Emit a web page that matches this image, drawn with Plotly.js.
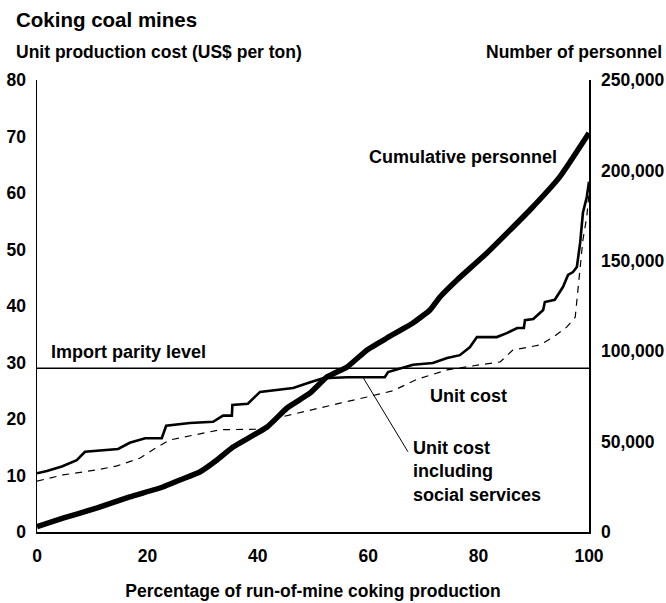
<!DOCTYPE html>
<html>
<head>
<meta charset="utf-8">
<script src="https://cdn.plot.ly/plotly-3.0.1.min.js"></script>
<style>html,body{margin:0;padding:0;background:#fff;}#chart{width:666px;height:603px;}</style>
</head>
<body>
<div id="chart"></div>
<script>
// Unit cost including social services (US$ per ton) vs. % of run-of-mine coking production
const socialShare = [0, 1.8, 4.5, 7.2, 8.7, 14.7, 16.8, 19.6, 22.6, 23.4, 27.7, 31.9, 33.7, 35.3, 35.4, 38.2, 40.4, 46.4, 49.5, 51.8, 56.2, 63.0, 63.6, 65.8, 68.1, 71.7, 74.3, 76.6, 78.4, 79.7, 83.3, 85.1, 87.0, 88.2, 88.4, 89.9, 91.7, 92.0, 93.8, 95.3, 96.2, 97.1, 97.8, 98.4, 98.9, 99.6, 99.8, 100];
const socialCost  = [10.4, 10.8, 11.6, 12.7, 14.2, 14.7, 15.8, 16.6, 16.6, 18.8, 19.3, 19.5, 20.6, 20.6, 22.5, 22.7, 24.8, 25.5, 26.5, 27.2, 27.4, 27.4, 28.3, 29.0, 29.6, 29.9, 30.8, 31.3, 32.7, 34.5, 34.5, 35.2, 36.1, 36.1, 37.5, 37.7, 39.3, 40.7, 41.1, 43.4, 45.5, 46.0, 46.9, 51.2, 56.5, 59.3, 61.0, 62.0];

// Unit cost (dashed)
const unitShare = [0, 4.7, 10.9, 14.5, 18.7, 21.7, 24.1, 29.0, 33.2, 40.4, 42.2, 44.0, 49.5, 54.9, 59.8, 64.5, 68.8, 74.3, 80.3, 83.9, 86.2, 91.1, 93.5, 96.0, 97.5, 98.4, 98.9, 99.6, 99.8, 100];
const unitCost  = [9.0, 10.1, 11.0, 11.7, 13.1, 15.0, 16.3, 17.2, 18.1, 18.2, 18.9, 20.3, 21.6, 22.8, 23.9, 25.0, 27.0, 28.7, 29.6, 30.1, 32.2, 33.1, 34.5, 36.3, 38.0, 46.4, 51.7, 55.8, 58.8, 60.0];

// Cumulative personnel (right axis)
const persShare = [0, 4.7, 10.9, 16.8, 22.8, 25.9, 29.5, 32.6, 35.5, 41.7, 45.3, 49.5, 52.5, 56.2, 59.8, 63.4, 68.1, 71.2, 73.0, 76.1, 81.5, 89.3, 94.7, 100];
const persCount = [3000, 7700, 13300, 19400, 24900, 28800, 33200, 39800, 47000, 58100, 68600, 76900, 85700, 91300, 100700, 107300, 115600, 122800, 130000, 139400, 154300, 178100, 196400, 220700];

// Import parity level (US$ per ton)
const importParity = 29.0;

const xTicks = [0, 20, 40, 60, 80, 100];
const yTicks = [0, 10, 20, 30, 40, 50, 60, 70, 80];
const y2Ticks = [0, 50000, 100000, 150000, 200000, 250000];

const FONT = "'Liberation Sans', Arial, sans-serif";
const bold = (size) => ({family: FONT, size: size, color: '#000', weight: 'bold'});

const traces = [
  {x: [0, 100], y: [importParity, importParity], mode: 'lines', line: {color: '#000', width: 1.5}, hoverinfo: 'skip'},
  {x: unitShare, y: unitCost, mode: 'lines', line: {color: '#000', width: 1.2, dash: '7px,6px'}},
  {x: socialShare, y: socialCost, mode: 'lines', line: {color: '#000', width: 2.6}},
  {x: persShare, y: persCount, yaxis: 'y2', mode: 'lines', line: {color: '#000', width: 5.5, shape: 'spline', smoothing: 0.4}}
];

const layout = {
  width: 666, height: 603,
  margin: {l: 37, r: 77, t: 80, b: 71},
  paper_bgcolor: '#fff', plot_bgcolor: '#fff',
  showlegend: false,
  font: bold(17.5),
  xaxis: {
    range: [0, 100], tickvals: xTicks, ticks: '', showgrid: false, zeroline: false,
    showline: true, linecolor: '#000', linewidth: 1.5, ticklabelstandoff: 7,
    tickfont: bold(17.5),
    title: {text: 'Percentage of run-of-mine coking production', font: bold(17.5), standoff: 20}
  },
  yaxis: {
    range: [0, 80], tickvals: yTicks, ticks: '', showgrid: false, zeroline: false,
    showline: true, linecolor: '#000', linewidth: 1.5, ticklabelstandoff: 6,
    tickfont: bold(17.5)
  },
  yaxis2: {
    range: [0, 250000], tickvals: y2Ticks, tickformat: ',', overlaying: 'y', side: 'right',
    ticks: '', showgrid: false, zeroline: false,
    showline: true, linecolor: '#000', linewidth: 1.5, ticklabelstandoff: 7,
    tickfont: bold(17.5)
  },
  shapes: [
    {type: 'line', xref: 'x', yref: 'y', x0: 59.1, y0: 27.3, x1: 67.2, y1: 14.2, line: {color: '#000', width: 1}}
  ],
  annotations: [
    {xref: 'paper', yref: 'paper', x: -0.042, y: 1.133, xanchor: 'left', yanchor: 'middle', showarrow: false,
     text: 'Coking coal mines', font: bold(20.5)},
    {xref: 'paper', yref: 'paper', x: -0.042, y: 1.062, xanchor: 'left', yanchor: 'middle', showarrow: false,
     text: 'Unit production cost (US$ per ton)', font: bold(17.5)},
    {xref: 'paper', yref: 'paper', x: 1.136, y: 1.062, xanchor: 'right', yanchor: 'middle', showarrow: false,
     text: 'Number of personnel', font: bold(17.5)},
    {xref: 'x', yref: 'y', x: 2.2, y: 31.9, xanchor: 'left', yanchor: 'middle', showarrow: false,
     text: 'Import parity level', font: bold(18)},
    {xref: 'x', yref: 'y', x: 59.8, y: 66.4, xanchor: 'left', yanchor: 'middle', showarrow: false,
     text: 'Cumulative personnel', font: bold(18)},
    {xref: 'x', yref: 'y', x: 70.9, y: 24.1, xanchor: 'left', yanchor: 'middle', showarrow: false,
     text: 'Unit cost', font: bold(18)},
    {xref: 'x', yref: 'y', x: 67.7, y: 17.0, xanchor: 'left', yanchor: 'top', align: 'left', showarrow: false,
     text: 'Unit cost<br>including<br>social services', font: bold(18)}
  ]
};

Plotly.newPlot('chart', traces, layout, {staticPlot: true, displayModeBar: false});
</script>
</body>
</html>
